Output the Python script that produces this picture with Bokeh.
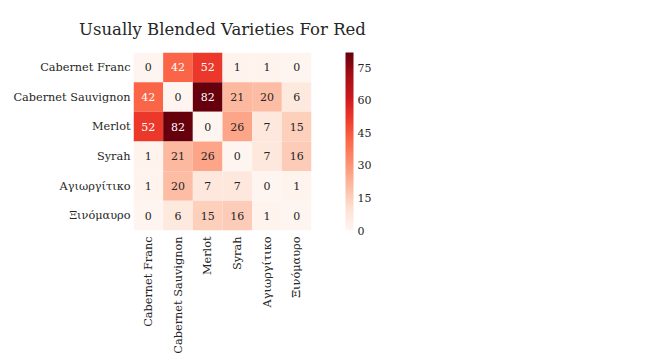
import math
import numpy as np
from bokeh.plotting import figure
from bokeh.models import ColumnDataSource, LinearColorMapper, ColorBar, FixedTicker, FactorRange
from bokeh.core.properties import value
from bokeh.embed import file_html
from bokeh.resources import INLINE

varieties = ["Cabernet Franc", "Cabernet Sauvignon", "Merlot", "Syrah", "Αγιωργίτικο", "Ξινόμαυρο"]
counts = [
    [0, 42, 52, 1, 1, 0],
    [42, 0, 82, 21, 20, 6],
    [52, 82, 0, 26, 7, 15],
    [1, 21, 26, 0, 7, 16],
    [1, 20, 7, 7, 0, 1],
    [0, 6, 15, 16, 1, 0],
]
cbar_ticks = [0, 15, 30, 45, 60, 75]
title = "Usually Blended Varieties For Red"

# matplotlib-like "Reds" colormap from the 9 ColorBrewer anchors
anchors = ['#fff5f0', '#fee0d2', '#fcbba1', '#fc9272', '#fb6a4a', '#ef3b2c', '#cb181d', '#a50f15', '#67000d']
arr = np.array([[int(h[i:i + 2], 16) for i in (1, 3, 5)] for h in anchors], dtype=float)
t = np.linspace(0, 1, 256)
pos = np.linspace(0, 1, len(anchors))
rgb = np.stack([np.interp(t, pos, arr[:, k]) for k in range(3)], axis=1)
palette = ['#%02x%02x%02x' % tuple(int(round(c)) for c in row) for row in rgb]

vmin, vmax = 0, max(max(r) for r in counts)
mapper = LinearColorMapper(palette=palette, low=vmin, high=vmax)


def lum(hexc):
    c = np.array([int(hexc[i:i + 2], 16) for i in (1, 3, 5)]) / 255.0
    c = np.where(c <= 0.03928, c / 12.92, ((c + 0.055) / 1.055) ** 2.4)
    return 0.2126 * c[0] + 0.7152 * c[1] + 0.0722 * c[2]


xs, ys, vals, labels, tcolors = [], [], [], [], []
for i, row in enumerate(varieties):
    for j, col in enumerate(varieties):
        v = counts[i][j]
        xs.append(col)
        ys.append(row)
        vals.append(v)
        labels.append(str(v))
        idx = int(round((v - vmin) / (vmax - vmin) * 255))
        tcolors.append("#262626" if lum(palette[idx]) > 0.408 else "#ffffff")

src = ColumnDataSource(dict(x=xs, y=ys, v=vals, label=labels, tc=tcolors))

FONT = "DejaVu Serif"
p = figure(
    x_range=FactorRange(*varieties),
    y_range=FactorRange(*reversed(varieties)),
    frame_width=178, frame_height=178,
    min_border_left=133, min_border_top=52, min_border_bottom=112, min_border_right=30,
    output_backend="svg", toolbar_location=None, title=title,
)
p.title.text_font = FONT
p.title.text_font_size = "16.5px"
p.title.text_font_style = "normal"
p.title.align = "center"
p.title.vertical_align = "top"
p.title.text_color = "#262626"
p.title.standoff = 24

p.rect(x="x", y="y", width=1, height=1, source=src,
       fill_color={"field": "v", "transform": mapper}, line_color=None)
p.text(x="x", y="y", text="label", source=src, text_color="tc",
       text_align="center", text_baseline="middle",
       text_font=value(FONT), text_font_size="11px")

for ax in (p.xaxis[0], p.yaxis[0]):
    ax.axis_line_color = None
    ax.major_tick_line_color = None
    ax.minor_tick_line_color = None
    ax.major_label_text_font = FONT
    ax.major_label_text_font_size = "11.3px"
    ax.major_label_text_color = "#262626"
    ax.major_label_standoff = 0
p.yaxis.major_label_standoff = -3
p.xaxis.major_label_orientation = math.pi / 2
p.grid.visible = False
p.outline_line_color = None

cb = ColorBar(color_mapper=mapper, width=8, height=178, padding=0, margin=0,
              ticker=FixedTicker(ticks=cbar_ticks),
              major_tick_line_color=None, minor_tick_line_color=None,
              bar_line_color=None, border_line_color=None,
              major_label_text_font=FONT, major_label_text_font_size="11px",
              major_label_text_color="#262626", label_standoff=4,
              location=(34, 0))
p.add_layout(cb, "right")

open("out.html", "w").write(file_html(p, INLINE))
